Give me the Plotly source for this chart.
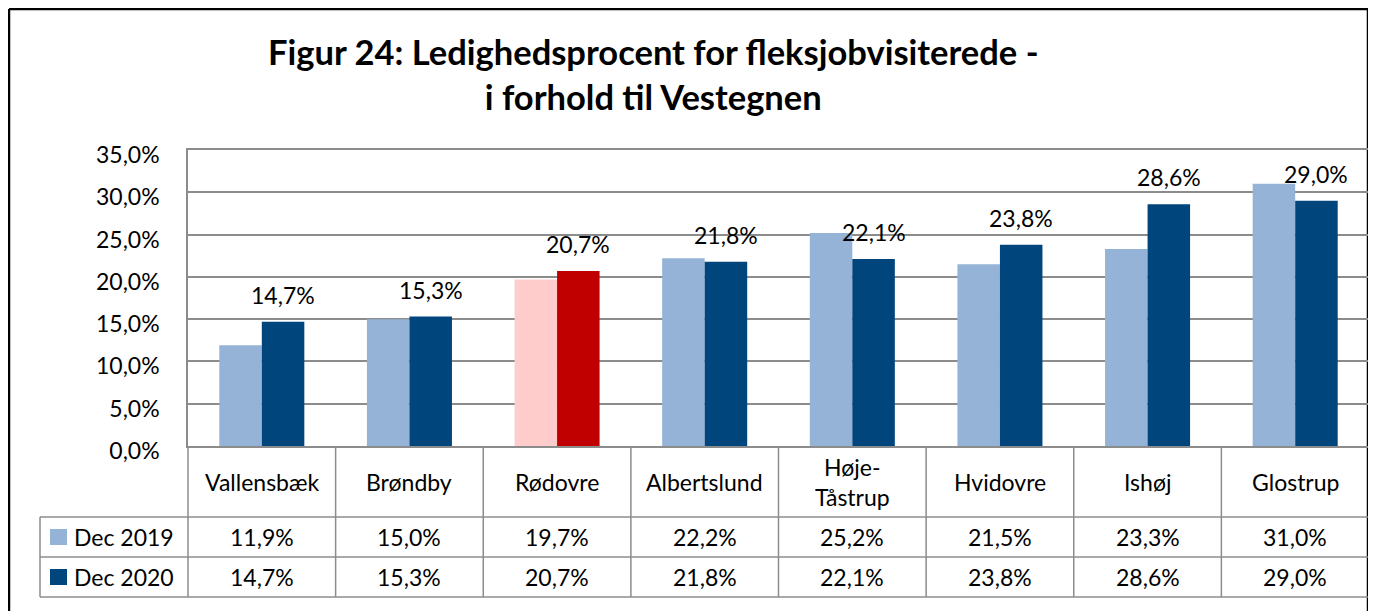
import plotly.graph_objects as go

categories = ["Vallensbæk", "Brøndby", "Rødovre", "Albertslund", "Høje-Tåstrup",
              "Hvidovre", "Ishøj", "Glostrup"]
category_labels = ["Vallensbæk", "Brøndby", "Rødovre", "Albertslund", "Høje-<br>Tåstrup",
                   "Hvidovre", "Ishøj", "Glostrup"]
series_names = ["Dec 2019", "Dec 2020"]
dec2019 = [11.9, 15.0, 19.7, 22.2, 25.2, 21.5, 23.3, 31.0]
dec2020 = [14.7, 15.3, 20.7, 21.8, 22.1, 23.8, 28.6, 29.0]
y_ticks = [0, 5, 10, 15, 20, 25, 30, 35]

LIGHT, DARK = "#95B3D7", "#00457C"
PINK, RED = "#FFCCCC", "#C00000"
highlight = "Rødovre"
colors19 = [PINK if c == highlight else LIGHT for c in categories]
colors20 = [RED if c == highlight else DARK for c in categories]

VW, VH = 1376, 611          # viewport
OFF = 8                     # page body margin
W, H = VW - OFF, VH - OFF   # figure size so it fits the viewport
FONT = "Lato"
GRID = "#8C8C8C"
TXT = "#000000"
FS = 23

# layout geometry (target pixels in the viewport)
PX0, PX1 = 188, 1369
PY_TOP, PY_BOT = 150, 446
ROW_Y = [446, 517, 557, 597]
LEG_X0 = 40
BARGAP = 0.424


def fx(px):
    return (px - OFF) / W


def fy(py):
    return 1 - (py - OFF) / H


def pct(v):
    return f"{v:.1f}".replace(".", ",") + "%"


fig = go.Figure()
fig.add_trace(go.Bar(x=categories, y=dec2019, name=series_names[0],
                     marker=dict(color=colors19, line=dict(width=0)), showlegend=False,
                     hoverinfo="skip"))
fig.add_trace(go.Bar(x=categories, y=dec2020, name=series_names[1],
                     marker=dict(color=colors20, line=dict(width=0)), showlegend=False,
                     hoverinfo="skip"))

n = len(categories)
cat_w = (PX1 - PX0) / n
bar_w = cat_w * (1 - BARGAP) / 2

shapes = []
annotations = []

# outer frame (black)
frame = [(OFF + 1, OFF + 1, OFF + 1, VH + 5), (OFF + 1, OFF + 1, 1368, OFF + 1),
         (1368, OFF + 1, 1368, VH + 5)]
for (x0, y0, x1, y1) in frame:
    shapes.append(dict(type="line", xref="paper", yref="paper", x0=fx(x0), y0=fy(y0),
                       x1=fx(x1), y1=fy(y1), line=dict(color="#000000", width=2.5),
                       layer="below"))

# table horizontal lines
for yy in ROW_Y[1:]:
    shapes.append(dict(type="line", xref="paper", yref="paper", x0=fx(LEG_X0), x1=fx(PX1),
                       y0=fy(yy), y1=fy(yy), line=dict(color=GRID, width=1.5)))
# table vertical lines
shapes.append(dict(type="line", xref="paper", yref="paper", x0=fx(LEG_X0), x1=fx(LEG_X0),
                   y0=fy(ROW_Y[1]), y1=fy(ROW_Y[3]), line=dict(color=GRID, width=1.5)))
for k in range(n + 1):
    xx = PX0 + k * cat_w
    shapes.append(dict(type="line", xref="paper", yref="paper", x0=fx(xx), x1=fx(xx),
                       y0=fy(ROW_Y[0]), y1=fy(ROW_Y[3]), line=dict(color=GRID, width=1.5)))

# category labels and values
for k in range(n):
    cx = PX0 + (k + 0.5) * cat_w
    annotations.append(dict(xref="paper", yref="paper", x=fx(cx),
                            y=fy((ROW_Y[0] + ROW_Y[1]) / 2),
                            text=category_labels[k], showarrow=False, xanchor="center",
                            yanchor="middle", font=dict(family=FONT, size=FS, color=TXT)))
    for r, vals in enumerate([dec2019, dec2020]):
        annotations.append(dict(xref="paper", yref="paper", x=fx(cx),
                                y=fy((ROW_Y[r + 1] + ROW_Y[r + 2]) / 2),
                                text=pct(vals[k]), showarrow=False, xanchor="center",
                                yanchor="middle", font=dict(family=FONT, size=FS, color=TXT)))

# legend keys in table
for r, (nm, col) in enumerate(zip(series_names, [LIGHT, DARK])):
    cy = (ROW_Y[r + 1] + ROW_Y[r + 2]) / 2
    shapes.append(dict(type="rect", xref="paper", yref="paper", x0=fx(50), x1=fx(67),
                       y0=fy(cy - 8), y1=fy(cy + 8), fillcolor=col, line=dict(width=0)))
    annotations.append(dict(xref="paper", yref="paper", x=fx(72), y=fy(cy), text=nm,
                            showarrow=False, xanchor="left", yanchor="middle",
                            font=dict(family=FONT, size=FS, color=TXT)))

# data labels (Dec 2020)
for k in range(n):
    annotations.append(dict(xref="x", yref="y", x=categories[k], y=dec2020[k],
                            xshift=bar_w / 2, yshift=11, text=pct(dec2020[k]),
                            showarrow=False, xanchor="center", yanchor="bottom",
                            font=dict(family=FONT, size=FS, color=TXT)))

# title
annotations.append(dict(xref="paper", yref="paper", x=fx(653), y=fy(74), xanchor="center",
                        yanchor="middle", showarrow=False,
                        text="<b>Figur 24: Ledighedsprocent for fleksjobvisiterede -<br>"
                             "i forhold til Vestegnen</b>",
                        font=dict(family=FONT, size=34.5, color=TXT)))

fig.update_layout(
    width=W, height=H, autosize=False,
    margin=dict(l=0, r=0, t=0, b=0, pad=0, autoexpand=False),
    paper_bgcolor="white", plot_bgcolor="white",
    barmode="group", bargap=BARGAP, bargroupgap=0,
    shapes=shapes, annotations=annotations,
    xaxis=dict(domain=[fx(PX0), fx(PX1)], showticklabels=False, ticks="",
               showline=True, linecolor=GRID, linewidth=1.5, mirror=True,
               showgrid=False, zeroline=False, fixedrange=True, automargin=False),
    yaxis=dict(domain=[fy(PY_BOT), fy(PY_TOP)], range=[0, 35], tickmode="array",
               tickvals=y_ticks, ticktext=[pct(v) for v in y_ticks],
               ticks="", ticklabelstandoff=22, ticklabelshift=5,
               showline=True, linecolor=GRID, linewidth=1.5, mirror=True,
               showgrid=True, gridcolor=GRID, gridwidth=1.5, zeroline=False,
               tickfont=dict(family=FONT, size=FS, color=TXT), fixedrange=True,
               automargin=False),
    font=dict(family=FONT, size=FS, color=TXT),
)

fig.write_html("out.html")
